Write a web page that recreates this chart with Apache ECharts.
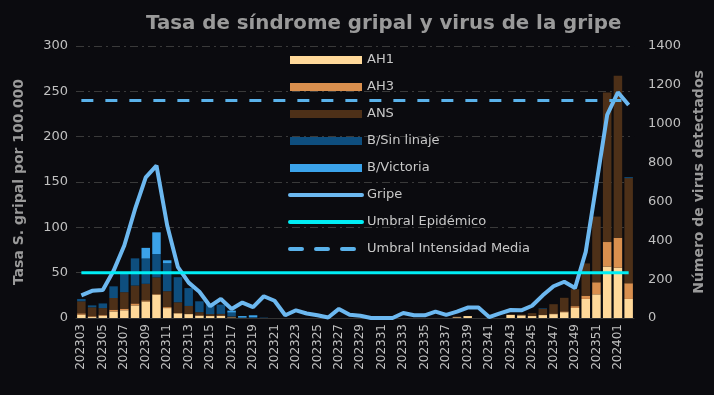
<!DOCTYPE html>
<html>
<head>
<meta charset="utf-8">
<script src="https://cdn.jsdelivr.net/npm/echarts@6/dist/echarts.min.js"></script>
<style>
html,body{margin:0;padding:0;background:#0b0b0f;}
#c{width:714px;height:395px;}
</style>
</head>
<body>
<div id="c"></div>
<script>
const categories = ['202303','202304','202305','202306','202307','202308','202309','202310','202311','202312',
'202313','202314','202315','202316','202317','202318','202319','202320','202321','202322',
'202323','202324','202325','202326','202327','202328','202329','202330','202331','202332',
'202333','202334','202335','202336','202337','202338','202339','202340','202341','202342',
'202343','202344','202345','202346','202347','202348','202349','202350','202351','202352',
'202401','202402'];

const ah1 = [17,5,12,34,40,65,85,120,51,24, 20,12,10,12,3,0,0,0,0,0, 0,0,0,0,0,0,0,0,0,0, 0,0,0,0,0,4,10,0,0,0, 16,14,10,15,20,30,52,98,122,265, 259,98];
const ah3 = [7,4,5,9,8,10,6,3,5,2, 2,2,2,1,0,0,0,0,0,0, 0,0,0,0,0,0,0,0,0,0, 0,0,0,0,0,0,0,0,0,0, 0,0,1,2,3,4,9,17,62,126, 154,81];
const ans = [62,46,34,60,85,92,85,86,82,55, 40,16,8,8,5,0,0,0,0,0, 0,0,0,0,0,0,0,0,0,0, 0,0,0,0,0,4,0,0,0,0, 3,4,14,30,48,70,87,166,338,770, 834,541];
const bSinLinaje = [12,10,24,60,95,140,130,120,144,129, 92,56,52,48,20,2,4,2,0,0, 0,0,0,0,0,0,0,0,0,0, 0,0,0,0,0,0,0,0,0,0, 0,0,0,3,0,0,0,0,0,0, 0,5];
const bVictoria = [0,0,0,0,0,0,55,112,15,0, 0,0,0,0,10,8,10,0,0,0, 0,0,0,0,0,0,0,0,0,0, 0,0,0,0,0,0,0,0,0,0, 0,0,0,0,0,0,0,0,0,0, 0,0];
const gripe = [25,30,31,52,80,120,155,168,102,56, 39,29,13,21,10,17,12,24,19,3, 8.5,5,3,0.5,10,3.5,2.5,0,0,0, 5.5,3,3,7,3.5,7,11.5,11.5,1,5, 8.8,8.5,13.5,25,35,40,33,73,148,224, 249,235];
const umbralEpidemico = 50;
const umbralIntensidadMedia = 240;

const leftTicks = {min:0, max:300, interval:50};
const rightTicks = {min:0, max:1400, interval:200};

const FONT = 'DejaVu Sans';
const chart = echarts.init(document.getElementById('c'), null, {renderer:'canvas'});

function barSeries(name, data, color){
  return {name, type:'bar', stack:'virus', yAxisIndex:1, data, barWidth:8.5,
    itemStyle:{color}, emphasis:{disabled:true}};
}
const lineLegend = (name, extra) => ({name, itemStyle:{opacity:0}, lineStyle:Object.assign({width:4, cap:'round'}, extra||{})});
const barLegend = name => ({name, icon:'rect'});

chart.setOption({
  backgroundColor:'#0b0b0f',
  animation:false,
  title:{text:'Tasa de síndrome gripal y virus de la gripe', left:141, top:9,
    textStyle:{color:'#9a9a9a', fontSize:19.8, fontWeight:'bold', fontFamily:FONT}},
  grid:{left:76, right:78, top:46, bottom:77},
  legend:{orient:'vertical', left:283, top:48, itemWidth:72, itemHeight:8, itemGap:13,
    textStyle:{color:'#c8c8c8', fontSize:13, fontFamily:FONT, lineHeight:14},
    data:[barLegend('AH1'),barLegend('AH3'),barLegend('ANS'),barLegend('B/Sin linaje'),barLegend('B/Victoria'),
      lineLegend('Gripe'),lineLegend('Umbral Epidémico'),lineLegend('Umbral Intensidad Media',{type:[12,14], cap:'round'})]},
  xAxis:{type:'category', data:categories,
    axisLine:{show:true, lineStyle:{color:'#333'}}, axisTick:{show:false},
    axisLabel:{rotate:90, interval:1, color:'#c0c0c0', fontSize:12, fontFamily:FONT, margin:6}},
  yAxis:[
    {type:'value', min:leftTicks.min, max:leftTicks.max, interval:leftTicks.interval,
     name:'Tasa S. gripal por 100.000', nameLocation:'middle', nameGap:50,
     nameTextStyle:{color:'#9a9a9a', fontSize:14, fontWeight:'bold', fontFamily:FONT},
     axisLabel:{color:'#c0c0c0', fontSize:13, fontFamily:FONT},
     axisLine:{show:false}, axisTick:{show:false},
     splitLine:{show:true, lineStyle:{color:'#3a3a3a', type:[8,4,2,4]}}},
    {type:'value', min:rightTicks.min, max:rightTicks.max, interval:rightTicks.interval,
     name:'Número de virus detectados', nameLocation:'middle', nameGap:56,
     nameTextStyle:{color:'#9a9a9a', fontSize:14, fontWeight:'bold', fontFamily:FONT},
     axisLabel:{color:'#c0c0c0', fontSize:13, fontFamily:FONT, margin:14, formatter:v=>String(v)},
     axisLine:{show:false}, axisTick:{show:false}, splitLine:{show:false}}
  ],
  series:[
    barSeries('AH1', ah1, '#ffd99a'),
    barSeries('AH3', ah3, '#d98f4e'),
    barSeries('ANS', ans, '#4d3018'),
    barSeries('B/Sin linaje', bSinLinaje, '#0e4e7e'),
    barSeries('B/Victoria', bVictoria, '#3ba3ea'),
    {name:'Gripe', type:'line', yAxisIndex:0, data:gripe, symbol:'none', z:5,
     lineStyle:{color:'#6cb8f0', width:4}, itemStyle:{color:'#6cb8f0'}},
    {name:'Umbral Epidémico', type:'line', yAxisIndex:0, data:categories.map(()=>umbralEpidemico), symbol:'none', z:6,
     lineStyle:{color:'#00eef5', width:3}, itemStyle:{color:'#00eef5'}},
    {name:'Umbral Intensidad Media', type:'line', yAxisIndex:0, data:categories.map(()=>umbralIntensidadMedia), symbol:'none', z:6,
     lineStyle:{color:'#5ab2ea', width:3, type:[12,12]}, itemStyle:{color:'#5ab2ea'}}
  ]
});
</script>
</body>
</html>
